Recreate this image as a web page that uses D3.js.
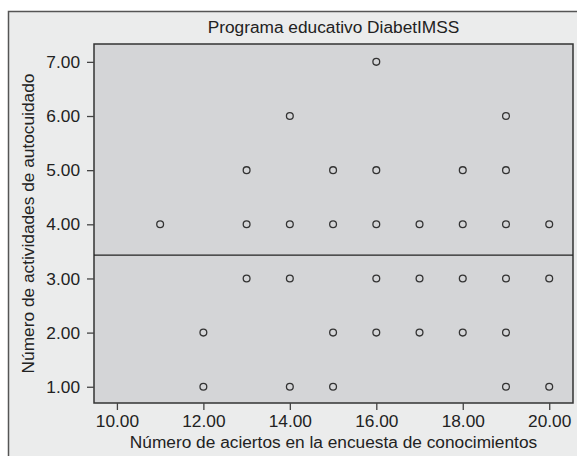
<!DOCTYPE html>
<html>
<head>
<meta charset="utf-8">
<script src="https://cdn.jsdelivr.net/npm/d3@7"></script>
<style>
  html, body { margin: 0; padding: 0; background: #fff; }
  svg { display: block; }
  text { font-family: "Liberation Sans", Arial, sans-serif; fill: #222; }
</style>
</head>
<body>
<div id="chart"></div>
<script>
// points (x = aciertos, y = actividades)
const aciertos    = [11, 12, 12, 13, 13, 13, 14, 14, 14, 14, 15, 15, 15, 15, 16, 16, 16, 16, 16, 17, 17, 17, 18, 18, 18, 18, 19, 19, 19, 19, 19, 19, 20, 20, 20]
const actividades = [4,  2,  1,  5,  4,  3,  6,  4,  3,  1,  5,  4,  2,  1,  7,  5,  4,  3,  2,  4,  3,  2,  5,  4,  3,  2,  6,  5,  4,  3,  2,  1,  4,  3,  1]
const refLine = 3.43

const xTicks = [10, 12, 14, 16, 18, 20]
const yTicks = [1, 2, 3, 4, 5, 6, 7]

const title = 'Programa educativo DiabetIMSS'
const xTitle = 'Número de aciertos en la encuesta de conocimientos'
const yTitle = 'Número de actividades de autocuidado'

const W = 577, H = 456
const plot = { left: 94, top: 44, right: 573, bottom: 403 }
const FS = 17.3

const svg = d3.select('#chart').append('svg')
  .attr('width', W)
  .attr('height', H)

// outer frame (runs past right/bottom edges)
svg.append('rect')
  .attr('x', 8.5).attr('y', 11.5)
  .attr('width', 600).attr('height', 480)
  .attr('fill', '#ebecec')
  .attr('stroke', '#555')
  .attr('stroke-width', 1.5)

const x = d3.scaleLinear().domain([9.47, 20.55]).range([plot.left, plot.right])
const y = d3.scaleLinear().domain([0.70, 7.33]).range([plot.bottom, plot.top])

svg.append('rect')
  .attr('x', plot.left).attr('y', plot.top)
  .attr('width', plot.right - plot.left).attr('height', plot.bottom - plot.top)
  .attr('fill', '#d4d5d7')
  .attr('stroke', '#333')
  .attr('stroke-width', 1.5)

const fmt = d3.format('.2f')

const xAxis = svg.append('g')
  .attr('transform', `translate(0,${plot.bottom})`)
  .call(d3.axisBottom(x).tickValues(xTicks).tickFormat(fmt).tickSize(7).tickPadding(5))
xAxis.select('.domain').remove()
xAxis.selectAll('line').attr('stroke', '#444').attr('stroke-width', 1.3)
xAxis.selectAll('text').attr('font-size', FS).attr('fill', '#222')

const yAxis = svg.append('g')
  .attr('transform', `translate(${plot.left},0)`)
  .call(d3.axisLeft(y).tickValues(yTicks).tickFormat(fmt).tickSize(7).tickPadding(7))
yAxis.select('.domain').remove()
yAxis.selectAll('line').attr('stroke', '#444').attr('stroke-width', 1.3)
yAxis.selectAll('text').attr('font-size', FS).attr('fill', '#222')

// horizontal reference line
svg.append('line')
  .attr('x1', plot.left).attr('x2', plot.right)
  .attr('y1', y(refLine)).attr('y2', y(refLine))
  .attr('stroke', '#222')
  .attr('stroke-width', 1.3)

svg.append('g').selectAll('circle')
  .data(d3.zip(aciertos, actividades))
  .enter()
  .append('circle')
  .attr('cx', d => x(d[0]))
  .attr('cy', d => y(d[1]))
  .attr('r', 3.4)
  .attr('fill', 'none')
  .attr('stroke', '#333')
  .attr('stroke-width', 1.3)

svg.append('text')
  .attr('x', (plot.left + plot.right) / 2)
  .attr('y', 33)
  .attr('text-anchor', 'middle')
  .attr('font-size', FS)
  .text(title)

svg.append('text')
  .attr('x', (plot.left + plot.right) / 2)
  .attr('y', 448)
  .attr('text-anchor', 'middle')
  .attr('font-size', FS)
  .text(xTitle)

svg.append('text')
  .attr('transform', `translate(34,${(plot.top + plot.bottom) / 2}) rotate(-90)`)
  .attr('text-anchor', 'middle')
  .attr('font-size', FS)
  .text(yTitle)
</script>
</body>
</html>
